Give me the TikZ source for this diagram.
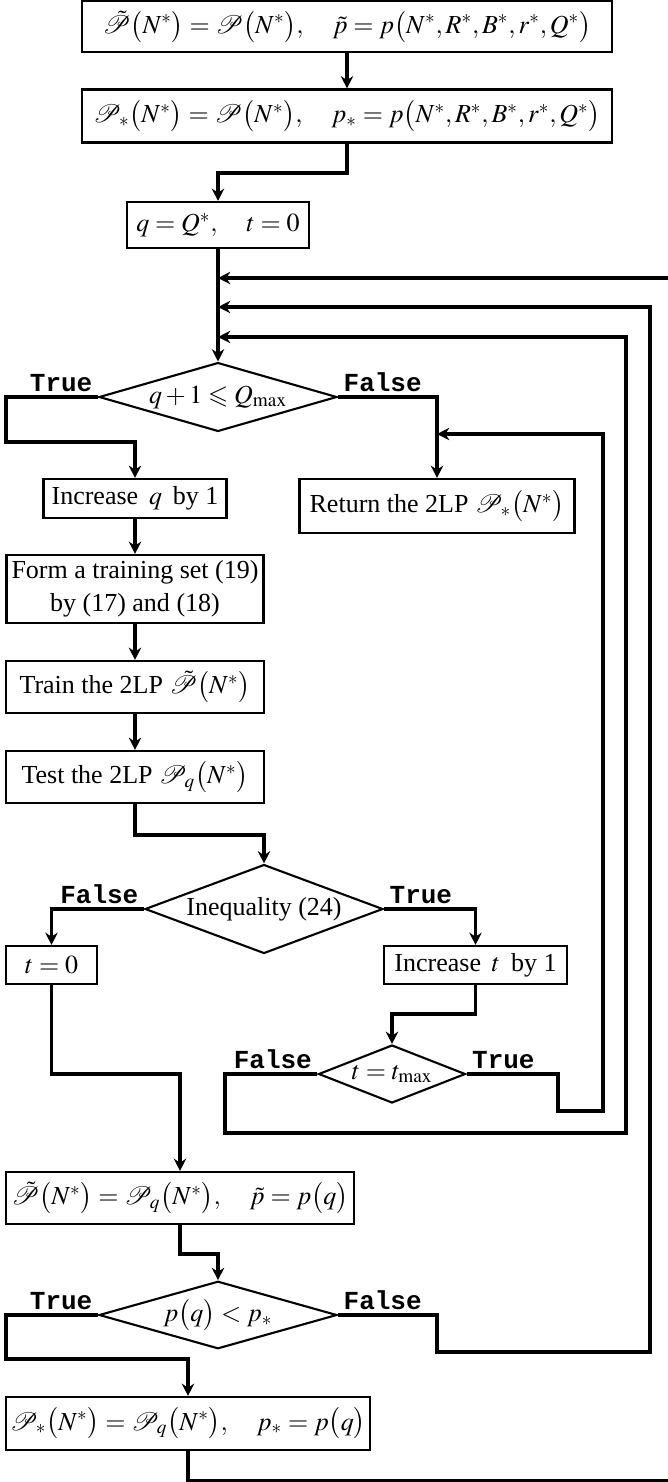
\documentclass[tikz,border=0pt]{standalone}
\usepackage{mathptmx}
\usepackage{amssymb}
\usepackage{mathrsfs}
\usepackage[no-math]{fontspec}
\setmainfont{Liberation Serif}
\setmonofont{Liberation Mono}
\usetikzlibrary{arrows.meta}
\usetikzlibrary{shapes.geometric}

\begin{document}
\begin{tikzpicture}[x=0.02cm,y=-0.02cm, font=\fontsize{14.8}{19}\selectfont,
    box/.style={draw,line width=1.2pt,inner sep=0pt,align=center},
    decision/.style={diamond,draw,line width=1.2pt,inner sep=0pt,aspect=3},
    conn/.style={line width=2pt,-{Stealth[length=7pt,width=7pt]}},
    lbl/.style={font=\fontsize{14.8}{19}\selectfont\ttfamily\bfseries,inner sep=3pt}]
      \useasboundingbox (0,0) rectangle (668,1482);
      \clip (0,0) rectangle (668,1482);

      \node[box,minimum width=10.6cm,minimum height=1.02cm] (b1) at (347,26.5) {$\tilde{\mathscr{P}}\bigl(N^*\bigr)=\mathscr{P}\bigl(N^*\bigr),\quad \tilde{p}=p\bigl(N^*,R^*,B^*,r^*,Q^*\bigr)$};
      \node[box,minimum width=10.6cm,minimum height=1.06cm] (b2) at (347,116) {$\mathscr{P}_*\bigl(N^*\bigr)=\mathscr{P}\bigl(N^*\bigr),\quad p_*=p\bigl(N^*,R^*,B^*,r^*,Q^*\bigr)$};
      \node[box,minimum width=3.64cm,minimum height=0.92cm] (b3) at (218,225) {$q=Q^*,\quad t=0$};
      \node[decision,minimum width=4.76cm,minimum height=1.2cm] (d1) at (218,397) {$q+1\leqslant Q_{\max}$};
      \node[box,minimum width=3.66cm,minimum height=0.78cm] (incq) at (135,498.5) {Increase \,$q$\, by 1};
      \node[box,minimum width=5.5cm,minimum height=1.08cm] (ret) at (437,506) {Return the 2LP $\mathscr{P}_*\bigl(N^*\bigr)$};
      \node[box,minimum width=5.14cm,minimum height=1.36cm] (form) at (135,589) {Form a training set (19)\\by (17) and (18)};
      \node[box,minimum width=5.16cm,minimum height=1.04cm] (train) at (135,687) {Train the 2LP $\tilde{\mathscr{P}}\bigl(N^*\bigr)$};
      \node[box,minimum width=5.16cm,minimum height=1.04cm] (test) at (135,777) {Test the 2LP $\mathscr{P}_q\bigl(N^*\bigr)$};
      \node[decision,minimum width=4.76cm,minimum height=1.78cm] (d2) at (264,909) {Inequality (24)};
      \node[box,minimum width=1.82cm,minimum height=0.76cm] (t0) at (51.5,965) {$t=0$};
      \node[box,minimum width=3.66cm,minimum height=0.76cm] (inct) at (475.5,965) {Increase \,$t$\, by 1};
      \node[decision,minimum width=2.94cm,minimum height=1.16cm] (d3) at (392,1074) {$t=t_{\max}$};
      \node[box,minimum width=6.96cm,minimum height=1.04cm] (upd) at (180,1198) {$\tilde{\mathscr{P}}\bigl(N^*\bigr)=\mathscr{P}_q\bigl(N^*\bigr),\quad \tilde{p}=p\bigl(q\bigr)$};
      \node[decision,minimum width=4.76cm,minimum height=1.2cm] (d4) at (218,1315) {$p\bigl(q\bigr)<p_*$};
      \node[box,minimum width=7.28cm,minimum height=1.06cm] (best) at (188,1423.5) {$\mathscr{P}_*\bigl(N^*\bigr)=\mathscr{P}_q\bigl(N^*\bigr),\quad p_*=p\bigl(q\bigr)$};

      \node[lbl,anchor=south east] (d1t) at (d1.west) {True};
      \node[lbl,anchor=south west] (d1f) at (d1.east) {False};
      \node[lbl,anchor=south east] (d2f) at (d2.west) {False};
      \node[lbl,anchor=south west] (d2t) at (d2.east) {True};
      \node[lbl,anchor=south east] (d3f) at (d3.west) {False};
      \node[lbl,anchor=south west] (d3t) at (d3.east) {True};
      \node[lbl,anchor=south east] (d4t) at (d4.west) {True};
      \node[lbl,anchor=south west] (d4f) at (d4.east) {False};

      \coordinate (in1) at (218,278);
      \coordinate (in2) at (218,307);
      \coordinate (in3) at (218,337);
      \coordinate (retin) at (437,434);

      \draw[conn] (b1) -- (b2);
      \draw[conn] (b2.south) -- ++(0,29.5) -| (b3.north);
      \draw[conn] (b3) -- (d1);
      \draw[conn] (d1.west) -| (6,442) -| (incq.north);
      \draw[conn] (d1.east) -| (ret.north);
      \draw[conn] (incq) -- (form);
      \draw[conn] (form) -- (train);
      \draw[conn] (train) -- (test);
      \draw[conn] (test.south) -- ++(0,31) -| (d2.north);
      \draw[conn] (d2.west) -| (t0.north);
      \draw[conn] (d2.east) -| (inct.north);
      \draw[conn] (inct.south) -- ++(0,29) -| (d3.north);
      \draw[conn] (d3.east) -| (558,1111) -| (603,434) -- (retin);
      \draw[conn] (d3.west) -| (225,1133) -| (626,337) -- (in3);
      \draw[conn] (t0.south) -- ++(0,89) -| (upd.north);
      \draw[conn] (upd.south) -- ++(0,29) -| (d4.north);
      \draw[conn] (d4.west) -| (6,1359) -| (best.north);
      \draw[conn] (d4.east) -| (437,1352) -| (650,307) -- (in2);
      \draw[conn] (best.south) -- ++(0,30) -| (690,278) -- (in1);
    \end{tikzpicture}
\end{document}
